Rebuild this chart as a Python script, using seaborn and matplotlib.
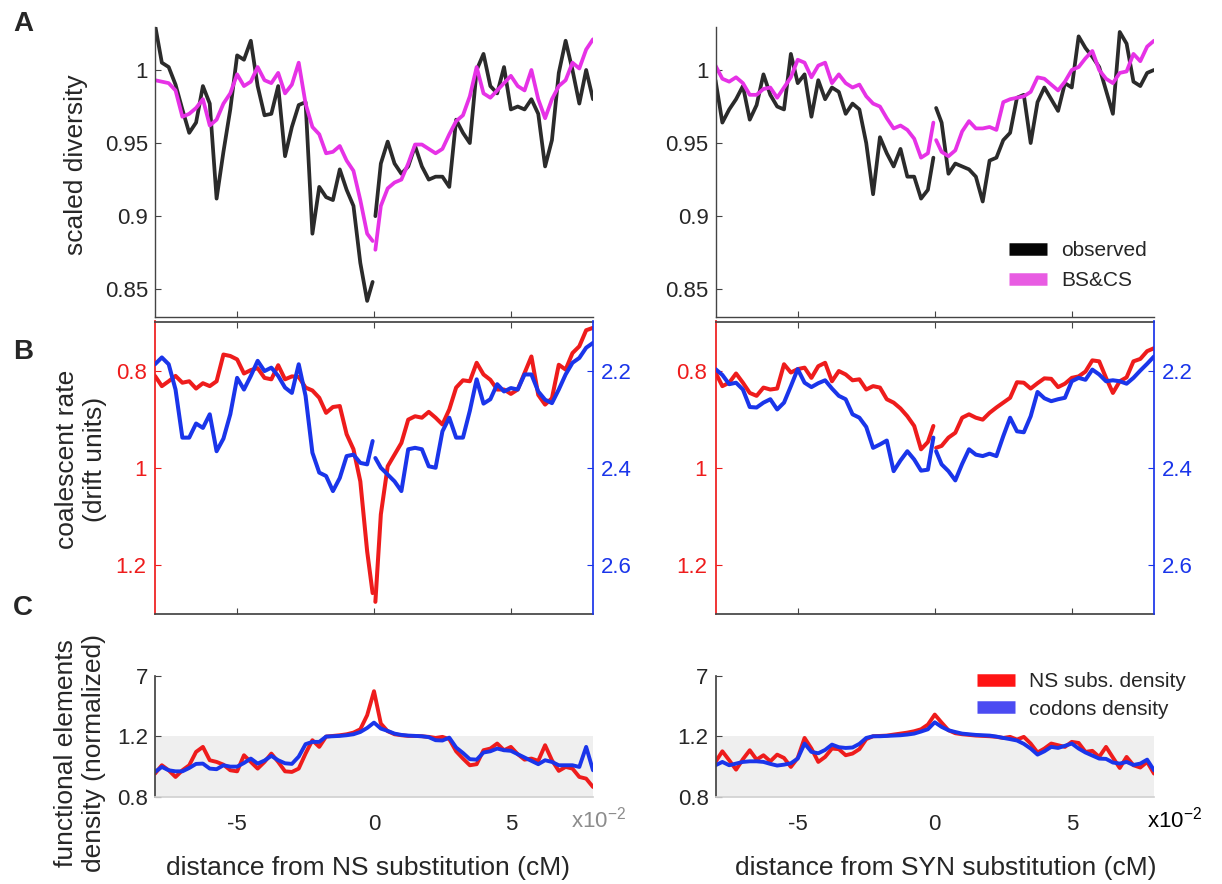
import numpy as np
import matplotlib
matplotlib.use("Agg")
import matplotlib.pyplot as plt
from matplotlib.lines import Line2D
import seaborn as sns

sns.set_theme(style="ticks")
plt.rcParams["font.family"] = ["Liberation Sans", "DejaVu Sans"]
plt.rcParams["mathtext.fontset"] = "custom"
plt.rcParams["mathtext.rm"] = "Liberation Sans"

# ==========================================
# data (x in units of 1e-2 cM)
# ==========================================
x_neg = np.append(np.arange(-8, 0, 0.25), -0.05)
x_pos = np.append(0.05, np.arange(0.25, 8.01, 0.25))
x_full = np.arange(-8, 8.01, 0.25)

# A: scaled diversity, NS substitutions
obs_ns_neg = [1.031, 1.005, 1.002, 0.990, 0.973, 0.957, 0.964, 0.989, 0.977, 0.912, 0.944,
              0.973, 1.010, 1.007, 1.020, 0.989, 0.969, 0.970, 0.989, 0.941, 0.961, 0.976,
              0.978, 0.888, 0.920, 0.913, 0.911, 0.932, 0.918, 0.907, 0.868, 0.842, 0.855]
obs_ns_pos = [0.900, 0.936, 0.951, 0.936, 0.929, 0.934, 0.948, 0.934, 0.925, 0.927, 0.927,
              0.920, 0.966, 0.957, 0.950, 1.000, 1.011, 0.989, 0.984, 1.002, 0.973, 0.975,
              0.973, 0.980, 0.970, 0.934, 0.952, 0.998, 1.020, 1.000, 0.977, 1.000, 0.980]
pred_ns_neg = [0.993, 0.992, 0.991, 0.986, 0.968, 0.970, 0.974, 0.980, 0.962, 0.966, 0.977,
               0.984, 0.997, 0.989, 0.992, 1.002, 0.993, 0.991, 0.998, 0.984, 0.990, 1.005,
               0.977, 0.961, 0.956, 0.943, 0.944, 0.948, 0.938, 0.931, 0.911, 0.888, 0.883]
pred_ns_pos = [0.877, 0.907, 0.919, 0.923, 0.925, 0.936, 0.949, 0.949, 0.946, 0.943, 0.946,
               0.956, 0.965, 0.969, 0.982, 1.002, 0.984, 0.981, 0.986, 0.991, 0.996, 0.989,
               0.986, 1.000, 0.980, 0.967, 0.980, 0.989, 0.993, 1.005, 1.001, 1.014, 1.021]

# A: scaled diversity, SYN substitutions
obs_syn_neg = [0.993, 0.964, 0.973, 0.980, 0.989, 0.966, 0.976, 0.997, 0.983, 0.975, 0.973,
               1.011, 0.991, 0.997, 0.968, 0.993, 0.980, 0.988, 0.985, 0.970, 0.977, 0.973,
               0.950, 0.915, 0.954, 0.943, 0.934, 0.946, 0.927, 0.927, 0.912, 0.918, 0.940]
obs_syn_pos = [0.974, 0.964, 0.929, 0.936, 0.934, 0.932, 0.927, 0.910, 0.938, 0.940, 0.952,
               0.957, 0.981, 0.983, 0.950, 0.978, 0.988, 0.980, 0.972, 0.991, 0.988, 1.023,
               1.015, 1.009, 1.002, 0.986, 0.970, 1.026, 1.018, 0.992, 0.989, 0.998, 1.000]
pred_syn_neg = [1.003, 0.994, 0.992, 0.995, 0.991, 0.983, 0.983, 0.987, 0.988, 0.981, 0.988,
                0.995, 1.007, 1.005, 0.995, 1.003, 1.005, 0.991, 0.997, 0.991, 0.988, 0.990,
                0.982, 0.977, 0.975, 0.967, 0.960, 0.962, 0.959, 0.953, 0.940, 0.943, 0.964]
pred_syn_pos = [0.952, 0.944, 0.941, 0.945, 0.958, 0.965, 0.960, 0.960, 0.961, 0.959, 0.978,
                0.980, 0.981, 0.982, 0.985, 0.995, 0.994, 0.990, 0.986, 0.992, 1.000, 1.002,
                1.008, 1.013, 1.000, 0.994, 0.991, 0.998, 0.999, 1.011, 1.006, 1.016, 1.020]

# B: coalescent rate (red, left axis) and its blue counterpart (right axis)
coal_red_ns_neg = [0.810, 0.831, 0.821, 0.810, 0.824, 0.821, 0.836, 0.825, 0.831, 0.821, 0.766,
                   0.769, 0.776, 0.805, 0.798, 0.794, 0.814, 0.817, 0.788, 0.817, 0.811, 0.812,
                   0.834, 0.840, 0.855, 0.886, 0.874, 0.872, 0.930, 0.961, 1.027, 1.171, 1.257]
coal_red_ns_pos = [1.275, 1.095, 0.996, 0.972, 0.948, 0.900, 0.893, 0.896, 0.884, 0.896, 0.910,
                   0.879, 0.834, 0.819, 0.821, 0.783, 0.807, 0.818, 0.838, 0.838, 0.847, 0.838,
                   0.804, 0.770, 0.849, 0.869, 0.856, 0.787, 0.797, 0.763, 0.749, 0.716, 0.711]
coal_blue_ns_neg = [2.186, 2.172, 2.186, 2.238, 2.337, 2.337, 2.308, 2.317, 2.289, 2.365, 2.339,
                    2.289, 2.214, 2.238, 2.210, 2.179, 2.200, 2.193, 2.210, 2.234, 2.245, 2.186,
                    2.251, 2.368, 2.409, 2.416, 2.447, 2.420, 2.375, 2.372, 2.389, 2.392, 2.344]
coal_blue_ns_pos = [2.379, 2.399, 2.413, 2.427, 2.447, 2.361, 2.358, 2.361, 2.396, 2.399, 2.324,
                    2.296, 2.337, 2.337, 2.282, 2.217, 2.267, 2.258, 2.227, 2.242, 2.235, 2.238,
                    2.207, 2.207, 2.242, 2.259, 2.266, 2.238, 2.207, 2.183, 2.173, 2.152, 2.142]
coal_red_syn_neg = [0.803, 0.831, 0.824, 0.805, 0.824, 0.845, 0.851, 0.834, 0.838, 0.836, 0.786,
                    0.803, 0.796, 0.793, 0.814, 0.790, 0.783, 0.821, 0.800, 0.807, 0.819, 0.817,
                    0.838, 0.831, 0.834, 0.858, 0.865, 0.877, 0.893, 0.913, 0.961, 0.946, 0.913]
coal_red_syn_pos = [0.958, 0.954, 0.937, 0.927, 0.896, 0.889, 0.896, 0.900, 0.886, 0.875, 0.865,
                    0.855, 0.823, 0.824, 0.836, 0.825, 0.815, 0.816, 0.833, 0.826, 0.814, 0.811,
                    0.801, 0.778, 0.780, 0.814, 0.845, 0.821, 0.813, 0.780, 0.775, 0.759, 0.753]
coal_blue_syn_neg = [2.196, 2.208, 2.227, 2.224, 2.238, 2.274, 2.275, 2.265, 2.258, 2.279, 2.265,
                     2.231, 2.196, 2.224, 2.233, 2.225, 2.219, 2.236, 2.251, 2.258, 2.289, 2.296,
                     2.315, 2.358, 2.351, 2.343, 2.406, 2.384, 2.365, 2.382, 2.405, 2.403, 2.337]
coal_blue_syn_pos = [2.365, 2.392, 2.406, 2.425, 2.391, 2.361, 2.372, 2.375, 2.370, 2.375, 2.334,
                     2.296, 2.324, 2.326, 2.293, 2.243, 2.256, 2.262, 2.258, 2.255, 2.221, 2.214,
                     2.218, 2.197, 2.207, 2.221, 2.219, 2.221, 2.226, 2.214, 2.199, 2.185, 2.170]

# C: functional elements density (normalized)
dens_ns_subs_ns = [0.954, 1.009, 0.976, 0.932, 0.976, 1.009, 1.097, 1.130, 1.042, 1.031, 1.013,
                   0.976, 0.969, 1.075, 1.031, 0.987, 1.031, 1.086, 1.031, 0.969, 0.965, 0.987,
                   1.086, 1.174, 1.130, 1.198, 1.212, 1.236, 1.272, 1.336, 1.473, 2.22, 4.49,
                   1.74, 1.39, 1.272, 1.236, 1.212, 1.212, 1.200, 1.196, 1.189, 1.196, 1.181,
                   1.101, 1.053, 1.009, 1.016, 1.108, 1.119, 1.152, 1.108, 1.130, 1.082, 1.046,
                   1.053, 1.038, 1.141, 1.042, 0.972, 0.998, 0.987, 0.932, 0.921, 0.866]
dens_codons_ns = [0.965, 0.998, 0.976, 0.969, 0.969, 0.991, 1.018, 1.020, 0.987, 0.983, 1.009,
                  1.000, 1.000, 1.024, 1.053, 1.020, 1.040, 1.071, 1.042, 1.022, 1.018, 1.066,
                  1.148, 1.163, 1.163, 1.198, 1.200, 1.212, 1.236, 1.272, 1.359, 1.530, 1.790,
                  1.502, 1.403, 1.297, 1.248, 1.224, 1.212, 1.200, 1.194, 1.174, 1.172, 1.191,
                  1.126, 1.090, 1.049, 1.046, 1.093, 1.101, 1.119, 1.108, 1.104, 1.082, 1.060,
                  1.038, 1.016, 1.042, 1.031, 1.009, 1.009, 1.009, 0.998, 1.130, 0.976]
dens_ns_subs_syn = [1.031, 1.101, 1.042, 0.980, 1.049, 1.108, 1.046, 1.075, 1.035, 1.079, 1.057,
                    0.998, 1.057, 1.189, 1.119, 1.031, 1.064, 1.119, 1.115, 1.075, 1.086, 1.115,
                    1.181, 1.200, 1.212, 1.224, 1.261, 1.297, 1.336, 1.390, 1.473, 1.689, 2.265,
                    1.790, 1.431, 1.310, 1.272, 1.248, 1.224, 1.212, 1.200, 1.196, 1.189, 1.196,
                    1.178, 1.196, 1.152, 1.093, 1.119, 1.152, 1.141, 1.130, 1.163, 1.156, 1.097,
                    1.104, 1.064, 1.130, 1.060, 0.991, 1.064, 1.009, 0.994, 1.031, 0.954]
dens_codons_syn = [1.009, 1.031, 1.009, 1.020, 1.031, 1.035, 1.035, 1.031, 1.018, 1.007, 1.013,
                   1.022, 1.053, 1.152, 1.097, 1.088, 1.110, 1.145, 1.128, 1.123, 1.126, 1.150,
                   1.189, 1.200, 1.200, 1.212, 1.224, 1.236, 1.261, 1.297, 1.377, 1.473, 1.808,
                   1.578, 1.431, 1.359, 1.297, 1.272, 1.248, 1.236, 1.224, 1.198, 1.189, 1.181,
                   1.172, 1.150, 1.119, 1.079, 1.101, 1.130, 1.123, 1.137, 1.152, 1.119, 1.093,
                   1.073, 1.053, 1.051, 1.027, 1.020, 1.031, 1.011, 1.020, 1.046, 0.976]

div_ticks = [0.85, 0.9, 0.95, 1]
div_tick_labels = ["0.85", "0.9", "0.95", "1"]
red_ticks = [0.8, 1, 1.2]
red_tick_labels = ["0.8", "1", "1.2"]
blue_ticks = [2.2, 2.4, 2.6]
blue_tick_labels = ["2.2", "2.4", "2.6"]
dens_ticks = [0.8, 1.2, 7]
dens_tick_labels = ["0.8", "1.2", "7"]
x_ticks = [-5, 0, 5]
x_tick_labels = ["-5", "0", "5"]

# ==========================================
# styling
# ==========================================
OBS = "#2b2b2b"
BSCS = "#e632e6"
RED = "#ee1c1c"
BLUE = "#1a35ea"
SPINE = "#444444"
W, H = 1222, 884
K = 0.225  # compression above 1.2 on the density axis


def fwd(y):
    y = np.asarray(y, dtype=float)
    return np.where(y <= 1.2, y, 1.2 + K * np.log(np.maximum(y, 1e-9) / 1.2))


def inv(t):
    t = np.asarray(t, dtype=float)
    return np.where(t <= 1.2, t, 1.2 * np.exp(np.minimum((t - 1.2) / K, 50)))


def box(x0, x1, y0, y1):
    return [x0 / W, 1 - y1 / H, (x1 - x0) / W, (y1 - y0) / H]


def style_a(ax):
    ax.set_xlim(-8, 8)
    ax.set_ylim(0.831, 1.0294)
    ax.set_xticks(x_ticks)
    ax.set_xticklabels([])
    ax.set_yticks(div_ticks)
    ax.set_yticklabels(div_tick_labels)
    for s in ["top", "right"]:
        ax.spines[s].set_visible(False)
    for s in ["left", "bottom"]:
        ax.spines[s].set_color(SPINE)
        ax.spines[s].set_linewidth(1)
    ax.tick_params(direction="in", length=4, width=0.8, color=SPINE, labelsize=16, pad=5)
    ax.set_xlabel("")
    ax.set_ylabel("")


def style_b(ax, ax2):
    ax.set_xlim(-8, 8)
    ax.set_ylim(1.3, 0.698)
    ax.set_xticks(x_ticks)
    ax.set_xticklabels([])
    ax.set_yticks(red_ticks)
    ax.set_yticklabels(red_tick_labels)
    ax.tick_params(axis="x", top=True, bottom=True, labelbottom=False, direction="in",
                   length=4, width=0.8, color=SPINE)
    ax.tick_params(axis="y", direction="in", length=4, width=0.8, colors=RED,
                   labelsize=16, pad=6)
    ax.spines["right"].set_visible(False)
    ax.spines["left"].set_color(RED)
    ax.spines["top"].set_color(SPINE)
    ax.spines["bottom"].set_color(SPINE)
    ax2.set_ylim(2.7, 2.098)
    ax2.set_yticks(blue_ticks)
    ax2.set_yticklabels(blue_tick_labels)
    ax2.tick_params(axis="y", direction="in", length=4, width=0.8, colors=BLUE,
                    labelsize=16, pad=6)
    for s in ["left", "top", "bottom"]:
        ax2.spines[s].set_visible(False)
    ax2.spines["right"].set_color(BLUE)
    for a in (ax, ax2):
        a.set_xlabel("")
        a.set_ylabel("")


def style_c(ax):
    ax.set_yscale("function", functions=(fwd, inv))
    ax.set_xlim(-8, 8)
    ax.set_ylim(0.8, 7)
    ax.axhspan(0.8, 1.2, color="#efefef", lw=0, zorder=0)
    ax.set_yticks(dens_ticks)
    ax.set_yticklabels(dens_tick_labels)
    ax.set_xticks(x_ticks)
    ax.set_xticklabels(x_tick_labels)
    ax.minorticks_off()
    ax.tick_params(axis="x", length=0, labelsize=16, pad=12)
    ax.tick_params(axis="y", direction="in", length=4, width=0.8, color=SPINE,
                   labelsize=16, pad=5)
    for s in ["top", "right"]:
        ax.spines[s].set_visible(False)
    ax.spines["left"].set_color(SPINE)
    ax.spines["bottom"].set_color("#d2d2d2")
    ax.set_xlabel("")
    ax.set_ylabel("")


fig = plt.figure(figsize=(12.22, 8.84), dpi=100)

cols = {
    "ns": (155, 593, obs_ns_neg, obs_ns_pos, pred_ns_neg, pred_ns_pos,
           coal_red_ns_neg, coal_red_ns_pos, coal_blue_ns_neg, coal_blue_ns_pos,
           dens_ns_subs_ns, dens_codons_ns),
    "syn": (715.5, 1154, obs_syn_neg, obs_syn_pos, pred_syn_neg, pred_syn_pos,
            coal_red_syn_neg, coal_red_syn_pos, coal_blue_syn_neg, coal_blue_syn_pos,
            dens_ns_subs_syn, dens_codons_syn),
}

axes_a, axes_c = {}, {}
for key, (x0, x1, o_n, o_p, p_n, p_p, r_n, r_p, b_n, b_p, d_red, d_blue) in cols.items():
    # A: scaled diversity
    ax_a = fig.add_axes(box(x0, x1, 27, 317))
    sns.lineplot(x=x_neg, y=o_n, ax=ax_a, color=OBS, linewidth=2.7, legend=False)
    sns.lineplot(x=x_pos, y=o_p, ax=ax_a, color=OBS, linewidth=2.7, legend=False)
    sns.lineplot(x=x_neg, y=p_n, ax=ax_a, color=BSCS, linewidth=2.7, legend=False)
    sns.lineplot(x=x_pos, y=p_p, ax=ax_a, color=BSCS, linewidth=2.7, legend=False)
    style_a(ax_a)
    axes_a[key] = ax_a

    # B: coalescent rate, two y axes
    ax_b = fig.add_axes(box(x0, x1, 321.5, 614))
    ax_b2 = ax_b.twinx()
    sns.lineplot(x=x_neg, y=r_n, ax=ax_b, color=RED, linewidth=2.9, legend=False)
    sns.lineplot(x=x_pos, y=r_p, ax=ax_b, color=RED, linewidth=2.9, legend=False)
    sns.lineplot(x=x_neg, y=b_n, ax=ax_b2, color=BLUE, linewidth=2.9, legend=False)
    sns.lineplot(x=x_pos, y=b_p, ax=ax_b2, color=BLUE, linewidth=2.9, legend=False)
    style_b(ax_b, ax_b2)

    # C: density
    ax_c = fig.add_axes(box(x0, x1, 676, 797))
    sns.lineplot(x=x_full, y=d_red, ax=ax_c, color=RED, linewidth=2.8, legend=False)
    sns.lineplot(x=x_full, y=d_blue, ax=ax_c, color=BLUE, linewidth=2.8, legend=False)
    style_c(ax_c)
    axes_c[key] = ax_c

# legends
leg_a = [Line2D([0], [0], color="#050505", lw=9, solid_capstyle="butt"),
         Line2D([0], [0], color="#e85ce2", lw=9, solid_capstyle="butt")]
axes_a["syn"].legend(leg_a, ["observed", "BS&CS"], loc="upper left",
                     bbox_to_anchor=(1009 / W, 1 - 241 / H), bbox_transform=fig.transFigure,
                     frameon=False, fontsize=15, handlelength=1.8, handletextpad=0.7,
                     labelspacing=0.55, borderpad=0, borderaxespad=0)
leg_c = [Line2D([0], [0], color="#ff1414", lw=9, solid_capstyle="butt"),
         Line2D([0], [0], color="#4b4bf2", lw=9, solid_capstyle="butt")]
axes_c["syn"].legend(leg_c, ["NS subs. density", "codons density"], loc="upper left",
                     bbox_to_anchor=(977 / W, 1 - 672 / H), bbox_transform=fig.transFigure,
                     frameon=False, fontsize=15, handlelength=1.8, handletextpad=0.7,
                     labelspacing=0.42, borderpad=0, borderaxespad=0)

# panel letters
for letter, yc in [("A", 24), ("B", 352), ("C", 608)]:
    fig.text(13 / W, 1 - yc / H, letter, fontsize=20, fontweight="bold", ha="left", va="center")

# axis labels
fig.text(76 / W, 1 - 165 / H, "scaled diversity", rotation=90, fontsize=19,
         ha="center", va="center")
fig.text(81 / W, 1 - 459 / H, "coalescent rate\n(drift units)", rotation=90, fontsize=19,
         ha="center", va="center", multialignment="center")
fig.text(80 / W, 1 - 753 / H, "functional elements\ndensity (normalized)", rotation=90,
         fontsize=19, ha="center", va="center", multialignment="center")
fig.text(368 / W, 1 - 868 / H, "distance from NS substitution (cM)", fontsize=19,
         ha="center", va="center")
fig.text(946 / W, 1 - 868 / H, "distance from SYN substitution (cM)", fontsize=19,
         ha="center", va="center")

# exponent markers
fig.text(571 / W, 1 - 820 / H, r"x10$^{\mathregular{-2}}$", fontsize=16, color="#8c8c8c",
         ha="left", va="center")
fig.text(1147 / W, 1 - 820 / H, r"x10$^{\mathregular{-2}}$", fontsize=16, color="black",
         ha="left", va="center")

fig.savefig("out.png", dpi=100)
